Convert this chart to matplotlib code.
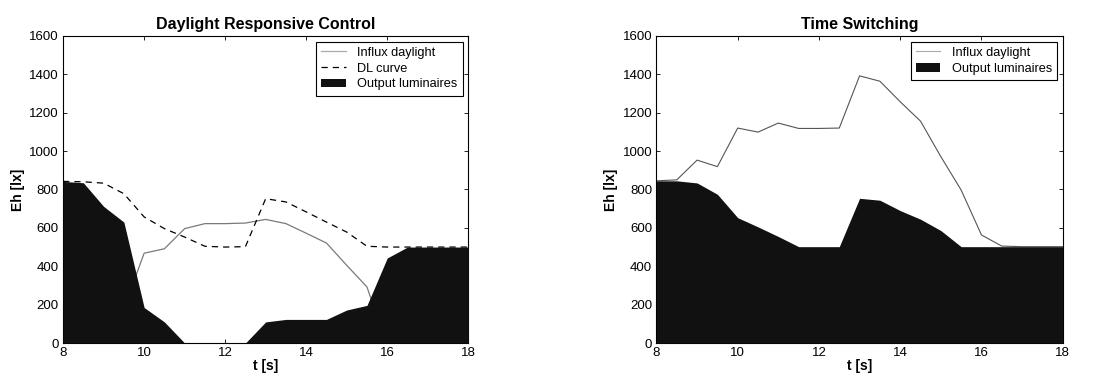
import matplotlib.pyplot as plt

plt.rcParams['font.family'] = ['Liberation Sans', 'DejaVu Sans']

# Daylight Responsive Control
drc_t = [8, 8.5, 9, 9.5, 10, 10.5, 11, 11.5, 12, 12.5, 13, 13.5, 14, 14.5, 15, 15.5, 16, 16.5, 17, 17.5, 18]
drc_output = [842, 835, 712, 630, 185, 110, 0, 0, 0, 0, 110, 123, 123, 123, 172, 196, 443, 500, 500, 500, 500]
drc_dl = [842, 840, 833, 778, 657, 596, 552, 504, 500, 502, 752, 735, 683, 630, 578, 504, 500, 500, 500, 500, 500]
drc_influx_t = [9.77, 10, 10.5, 11, 11.5, 12, 12.5, 13, 13.5, 14, 14.5, 15, 15.5, 15.65]
drc_influx = [335, 468, 491, 596, 622, 622, 625, 644, 622, 572, 521, 405, 292, 200]

# Time Switching
ts_t = [8, 8.5, 9, 9.5, 10, 10.5, 11, 11.5, 12, 12.5, 13, 13.5, 14, 14.5, 15, 15.5, 16, 16.5, 17, 17.5, 18]
ts_output = [845, 845, 834, 775, 653, 605, 555, 502, 502, 502, 754, 744, 690, 645, 586, 502, 502, 502, 502, 502, 502]
ts_influx = [845, 850, 953, 919, 1120, 1099, 1146, 1118, 1118, 1120, 1392, 1364, 1257, 1156, 971, 797, 563, 505, 502, 502, 502]

fig = plt.figure(figsize=(11.07, 3.81), dpi=100)
ax1 = fig.add_axes([0.057, 0.0997, 0.366, 0.806])
ax2 = fig.add_axes([0.593, 0.0997, 0.367, 0.806])


def style(ax, title):
    ax.set_xlim(8, 18)
    ax.set_ylim(0, 1600)
    ax.set_xticks(range(8, 19, 2))
    ax.set_yticks(range(0, 1601, 200))
    ax.tick_params(direction='in', top=True, right=True, labelsize=9.5, length=3, width=0.6, pad=3)
    for s in ax.spines.values():
        s.set_linewidth(0.8)
    ax.set_title(title, fontsize=11.5, fontweight='bold', pad=5)
    ax.set_xlabel('t [s]', fontsize=10, fontweight='bold', labelpad=0)
    ax.set_ylabel('Eh [lx]', fontsize=10, fontweight='bold', labelpad=3)


def add_legend(ax):
    leg = ax.legend(loc='upper right', fontsize=9.2, fancybox=False, edgecolor='black',
                    framealpha=1, handlelength=1.9, borderaxespad=0.45, borderpad=0.4,
                    labelspacing=0.3, handletextpad=0.9)
    leg.get_frame().set_linewidth(0.8)
    return leg


# left panel
ax1.plot(drc_influx_t, drc_influx, color='#7a7a7a', lw=0.9, label='Influx daylight', zorder=2)
ax1.plot(drc_t, drc_dl, color='black', lw=0.9, ls=(0, (5, 4)), label='DL curve', zorder=2)
ax1.fill_between(drc_t, 0, drc_output, color='#111111', lw=0, label='Output luminaires', zorder=3)
style(ax1, 'Daylight Responsive Control')
leg = add_legend(ax1)
leg.get_lines()[0].set_color('#aaaaaa')

# right panel
ax2.plot(ts_t, ts_influx, color='#555555', lw=0.8, label='Influx daylight', zorder=2)
ax2.fill_between(ts_t, 0, ts_output, color='#111111', lw=0, label='Output luminaires', zorder=3)
style(ax2, 'Time Switching')
leg = add_legend(ax2)
leg.get_lines()[0].set_color('#aaaaaa')

fig.savefig('out.png', dpi=100)
